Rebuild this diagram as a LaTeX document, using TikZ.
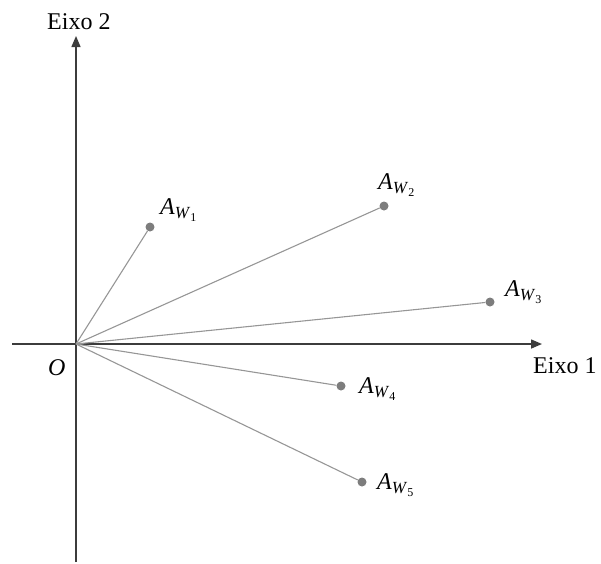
\documentclass[tikz,border=0pt]{standalone}
\usepackage{fontspec}
\setmainfont{Liberation Serif}
\usetikzlibrary{arrows.meta}
\definecolor{cAxis}{RGB}{60, 60, 60}
\definecolor{cVec} {RGB}{150, 150, 150}
\definecolor{cDot} {RGB}{125, 125, 125}
\newcommand{\Aw}[1]{\textit{A}\raisebox{-0.40ex}{\fontsize{17}{17}\selectfont\textit{W}\raisebox{-0.45ex}{\fontsize{12}{12}\selectfont #1}}}
\tikzset{
  axis/.style = {draw=cAxis, line width=1.5pt, -{Triangle[length=11pt,width=9pt]}},
  vec/.style  = {draw=cVec, line width=1.1pt},
  pt/.style   = {circle, fill=cDot, inner sep=0pt, minimum size=9pt},
  lbl/.style  = {font=\fontsize{24}{24}\selectfont, anchor=base west, inner sep=0pt},
  axl/.style  = {font=\fontsize{24}{24}\selectfont, anchor=base west, inner sep=0pt},
}
\begin{document}
\begin{tikzpicture}[x=1pt,y=-1pt]
\useasboundingbox (0,0) rectangle (601,563);

%% axes
\coordinate (xs) at (12,344);
\coordinate (xe) at (542,344);
\coordinate (ys) at (76,562);
\coordinate (ye) at (76,36);
\coordinate (O) at (76,344);
\draw[axis] (xs) -- (xe);
\draw[axis] (ys) -- (ye);
\node[axl] (e1) at (533,373) {Eixo 1};
\node[axl] (e2) at (47,29) {Eixo 2};
\node[axl, font=\fontsize{24}{24}\selectfont\itshape] (o) at (48,375) {O};

%% points
\node[pt] (W1) at (150,227) {};
\node[pt] (W2) at (384,206) {};
\node[pt] (W3) at (490,302) {};
\node[pt] (W4) at (341,386) {};
\node[pt] (W5) at (362,482) {};

\foreach \p in {W1,W2,W3,W4,W5}
  \draw[vec] (O) -- (\p);

%% labels
\node[lbl] (L1) at (160,214) {\Aw{1}};
\node[lbl] (L2) at (378,189) {\Aw{2}};
\node[lbl] (L3) at (505,296) {\Aw{3}};
\node[lbl] (L4) at (359,393) {\Aw{4}};
\node[lbl] (L5) at (377,489) {\Aw{5}};

\end{tikzpicture}
\end{document}
